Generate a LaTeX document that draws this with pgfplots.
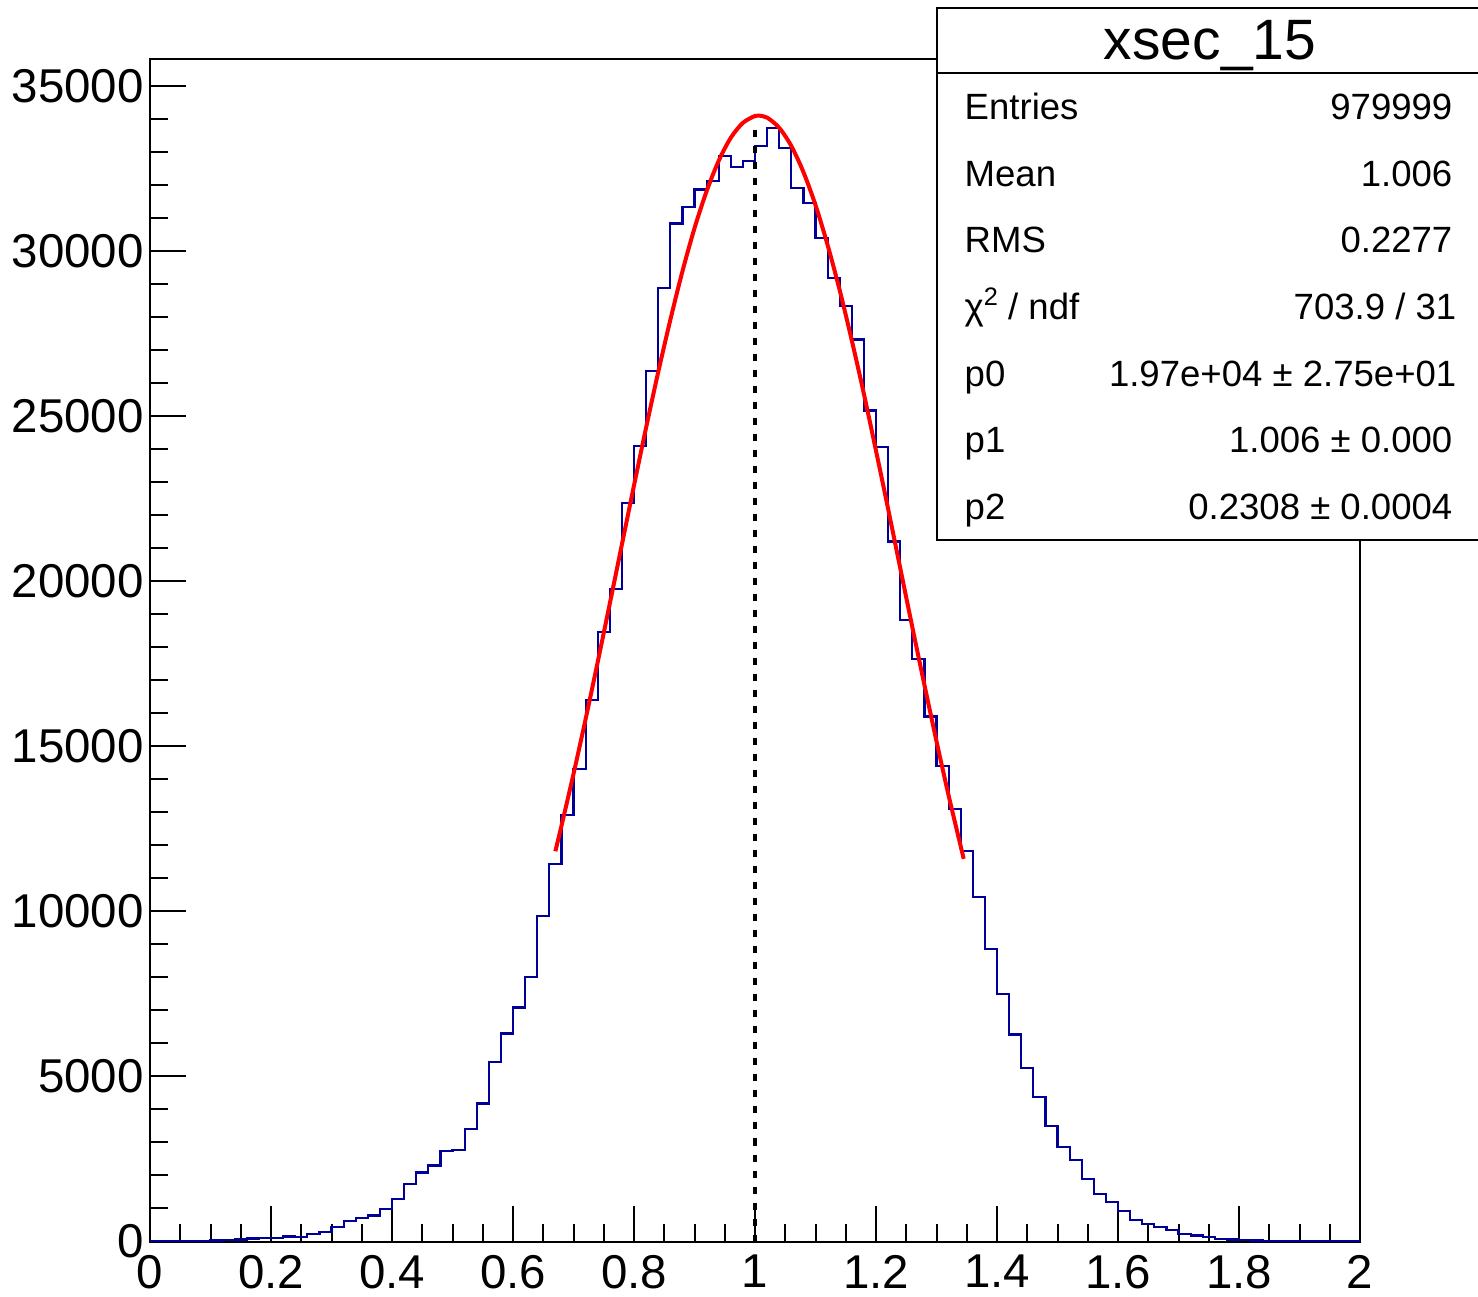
\documentclass[border=0pt]{standalone}
\usepackage{fontspec}
\setmainfont{Liberation Sans}
\usepackage{pgfplots}
\usepackage{pgfplotstable}
\pgfplotsset{compat=1.18}
\definecolor{histblue}{RGB}{0,0,153}

\pgfplotstableread{
x y
0.00 0
0.02 0
0.04 5
0.06 10
0.08 20
0.10 30
0.12 50
0.14 60
0.16 90
0.18 100
0.20 110
0.22 150
0.24 130
0.26 230
0.28 290
0.30 440
0.32 615
0.34 720
0.36 790
0.38 990
0.40 1290
0.42 1750
0.44 2090
0.46 2300
0.48 2730
0.50 2780
0.52 3400
0.54 4180
0.56 5430
0.58 6300
0.60 7090
0.62 8010
0.64 9870
0.66 11440
0.68 12910
0.70 14300
0.72 16390
0.74 18450
0.76 19770
0.78 22370
0.80 24090
0.82 26360
0.84 28870
0.86 30830
0.88 31340
0.90 31860
0.92 32130
0.94 32880
0.96 32550
0.98 32730
1.00 33180
1.02 33720
1.04 33120
1.06 31900
1.08 31460
1.10 30400
1.12 29190
1.14 28340
1.16 27320
1.18 25170
1.20 24060
1.22 21200
1.24 18820
1.26 17640
1.28 15900
1.30 14390
1.32 13100
1.34 11820
1.36 10430
1.38 8850
1.40 7490
1.42 6270
1.44 5260
1.46 4380
1.48 3510
1.50 2860
1.52 2460
1.54 1900
1.56 1430
1.58 1190
1.60 920
1.62 640
1.64 525
1.66 430
1.68 340
1.70 230
1.72 180
1.74 130
1.76 80
1.78 60
1.80 40
1.82 30
1.84 20
1.86 10
1.88 8
1.90 5
1.92 3
1.94 2
1.96 1
1.98 0
2.00 0
}\histdata

\pgfplotstableread{
x y
0.670 11820
0.680 12580
0.700 14160
0.720 15820
0.740 17550
0.760 19320
0.780 21110
0.800 22900
0.820 24650
0.840 26330
0.860 27910
0.880 29380
0.900 30690
0.920 31810
0.940 32730
0.960 33430
0.980 33880
1.000 34090
1.006 34100
1.020 34040
1.040 33730
1.060 33180
1.080 32390
1.100 31390
1.120 30180
1.140 28810
1.160 27290
1.180 25670
1.200 23950
1.220 22190
1.240 20400
1.260 18610
1.280 16860
1.300 15150
1.320 13510
1.340 11970
1.345 11590
}\fitdata

\begin{document}
\begin{tikzpicture}
\useasboundingbox (0,0) rectangle (147.8mm,129.6mm);
\begin{axis}[
  at={(15mm,5.45mm)}, anchor=south west,
  scale only axis, width=121mm, height=118.2mm,
  xmin=0, xmax=2, ymin=0, ymax=35800,
  axis line style={line width=0.2mm},
  every tick/.style={black, line width=0.2mm},
  tick align=inside,
  xtick pos=left, ytick pos=left,
  xtick={0,0.2,0.4,0.6,0.8,1,1.2,1.4,1.6,1.8,2},
  ytick={0,5000,10000,15000,20000,25000,30000,35000},
  minor x tick num=3, minor y tick num=4,
  major tick length=3.6mm, minor tick length=1.8mm,
  scaled y ticks=false, scaled x ticks=false,
  tick label style={font=\fontsize{13.5}{15}\selectfont},
  yticklabel style={xshift=0.6mm},
  xticklabel style={yshift=-0.1mm},
  /pgf/number format/assume math mode=true,
  /pgf/number format/1000 sep={},
]
\addplot[histblue, line width=0.22mm, const plot mark left] table[x=x,y=y] {\histdata};
\addplot[black, line width=0.4mm, dash pattern=on 0.7mm off 0.9mm] coordinates {(1,0) (1,33730)};
\addplot[red, line width=0.4mm, smooth] table[x=x,y=y] {\fitdata};
\end{axis}
\begin{scope}[x=0.1mm, y=-0.1mm, yshift=129.6mm]
\draw[line width=0.2mm, fill=white] (937,8) rectangle (1484,540);
\draw[line width=0.2mm] (937,73) -- (1484,73);
\node[anchor=base, inner sep=0, font=\fontsize{16.2}{18}\selectfont] at (1210,60) {xsec\_15};
\begin{scope}[every node/.style={inner sep=0, font=\fontsize{10.4}{12}\selectfont}]
\node[anchor=base west] at (964,120) {Entries};
\node[anchor=base east] at (1453,120) {979999};
\node[anchor=base west] at (964,187) {Mean};
\node[anchor=base east] at (1453,187) {1.006};
\node[anchor=base west] at (964,253) {RMS};
\node[anchor=base east] at (1453,253) {0.2277};
\node[anchor=base west] at (964,320) {χ\raisebox{0.75ex}{\fontsize{7.2}{7}\selectfont 2} / ndf};
\node[anchor=base east] at (1457,320) {703.9 / 31};
\node[anchor=base west] at (964,387) {p0};
\node[anchor=base east] at (1457,387) {1.97e+04 ± 2.75e+01};
\node[anchor=base west] at (964,453) {p1};
\node[anchor=base east] at (1453,453) {1.006 ± 0.000};
\node[anchor=base west] at (964,520) {p2};
\node[anchor=base east] at (1453,520) {0.2308 ± 0.0004};
\end{scope}
\end{scope}
\end{tikzpicture}
\end{document}
